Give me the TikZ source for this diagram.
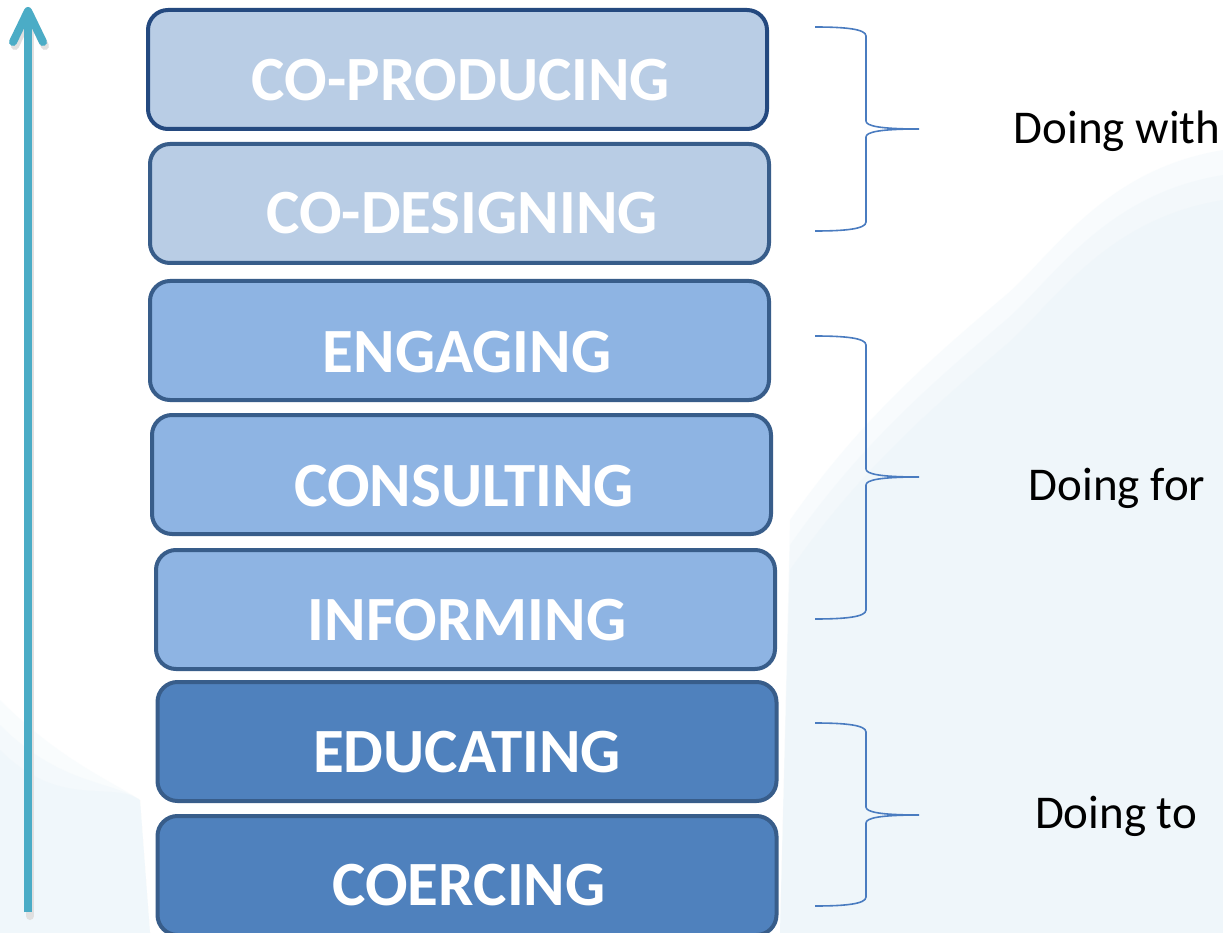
\documentclass[tikz,border=0pt]{standalone}
\usepackage{fontspec}
\setmainfont{Carlito}
\definecolor{lvlA}{HTML}{B9CDE5}
\definecolor{lvlB}{HTML}{8EB4E3}
\definecolor{lvlC}{HTML}{4F81BD}
\definecolor{edgeTop}{HTML}{24497F}
\definecolor{edgeStd}{HTML}{385D8A}
\definecolor{braceCol}{HTML}{4A7CC0}
\definecolor{arrowCol}{HTML}{4BACC6}
\definecolor{washCol}{HTML}{DDEEF7}
\newcommand\mybrace[3]{%
  (815,#1) .. controls (845,#1) and (866,#1+2) .. (866,#1+9) -- (866,#2-8)
  .. controls (866,#2-3) and (880,#2) .. (919,#2)
  .. controls (880,#2) and (866,#2+3) .. (866,#2+8) -- (866,#3-9)
  .. controls (866,#3-2) and (845,#3) .. (815,#3)}
\tikzset{
  lvlbox/.style={draw=edgeStd, line width=4pt, rounded corners=20pt,
    minimum width=619pt, minimum height=119pt, inner sep=0pt},
  lvltext/.style={text=white, font=\bfseries\fontsize{63}{70}\selectfont, inner sep=0pt},
  bracestyle/.style={draw=braceCol, line width=1.6pt},
  sidelabel/.style={text=black, font=\fontsize{47}{52}\selectfont, inner sep=0pt}
}
\begin{document}
\begin{tikzpicture}[x=1pt,y=-1pt]
\useasboundingbox (0,0) rectangle (1223,933);
\clip (0,0) rectangle (1223,933);
\fill[white] (0,0) rectangle (1223,933);
% faint watercolour wash
\foreach \o in {0,25,50}{
\fill[washCol, opacity=0.18] (1223,150+\o) .. controls (1100,170+\o) and (1050,260+\o) .. (1000,300+\o)
  .. controls (930,360+\o) and (860,420+\o) .. (790,520+\o) -- (780,933) -- (1223,933) -- cycle;
\fill[washCol, opacity=0.16] (0,700+\o) .. controls (60,760+\o) and (110,780) .. (140,800)
  -- (150,933) -- (0,933) -- cycle;
}
% arrow
\coordinate (arrowbot) at (28,912);
\coordinate (arrowtop) at (28,11);
\coordinate (arrowL) at (13,42);
\coordinate (arrowR) at (43,42);
\draw[black!12, line width=8pt, line cap=round, line join=round]
  ([shift={(2,4)}]arrowbot) -- ([shift={(2,4)}]arrowtop);
\draw[black!12, line width=8pt, line cap=round, line join=round]
  ([shift={(2,4)}]arrowL) -- ([shift={(2,4)}]arrowtop) -- ([shift={(2,4)}]arrowR);
\draw[arrowCol, line width=8pt] (arrowbot) -- (arrowtop);
\draw[arrowCol, line width=8pt, line cap=round, line join=round]
  (arrowL) -- (arrowtop) -- (arrowR);
% boxes
\node[lvlbox, draw=edgeTop, fill=lvlA] (b1) at (457.5,69.5) {};
\node[lvlbox, fill=lvlA] (b2) at (459.5,203.5) {};
\node[lvlbox, fill=lvlB] (b3) at (459.5,340.5) {};
\node[lvlbox, fill=lvlB] (b4) at (461.5,474.5) {};
\node[lvlbox, fill=lvlB] (b5) at (465.5,609.5) {};
\node[lvlbox, fill=lvlC] (b6) at (467,741.5) {};
\node[lvlbox, fill=lvlC] (b7) at (467,875.5) {};
\node[lvltext] (t1) at (461,80) {CO-PRODUCING};
\node[lvltext] (t2) at (462,213) {CO-DESIGNING};
\node[lvltext] (t3) at (467,352) {ENGAGING};
\node[lvltext] (t4) at (464,486) {CONSULTING};
\node[lvltext] (t5) at (467,620) {INFORMING};
\node[lvltext] (t6) at (467,752) {EDUCATING};
\node[lvltext] (t7) at (469,885) {COERCING};
% braces
\draw[bracestyle] \mybrace{27}{129}{231};
\draw[bracestyle] \mybrace{336}{477}{619};
\draw[bracestyle] \mybrace{723}{815}{906};
% labels
\node[sidelabel] (l1) at (1117,131) {Doing with};
\node[sidelabel] (l2) at (1117,488) {Doing for};
\node[sidelabel] (l3) at (1116,816) {Doing to};
\end{tikzpicture}
\end{document}
